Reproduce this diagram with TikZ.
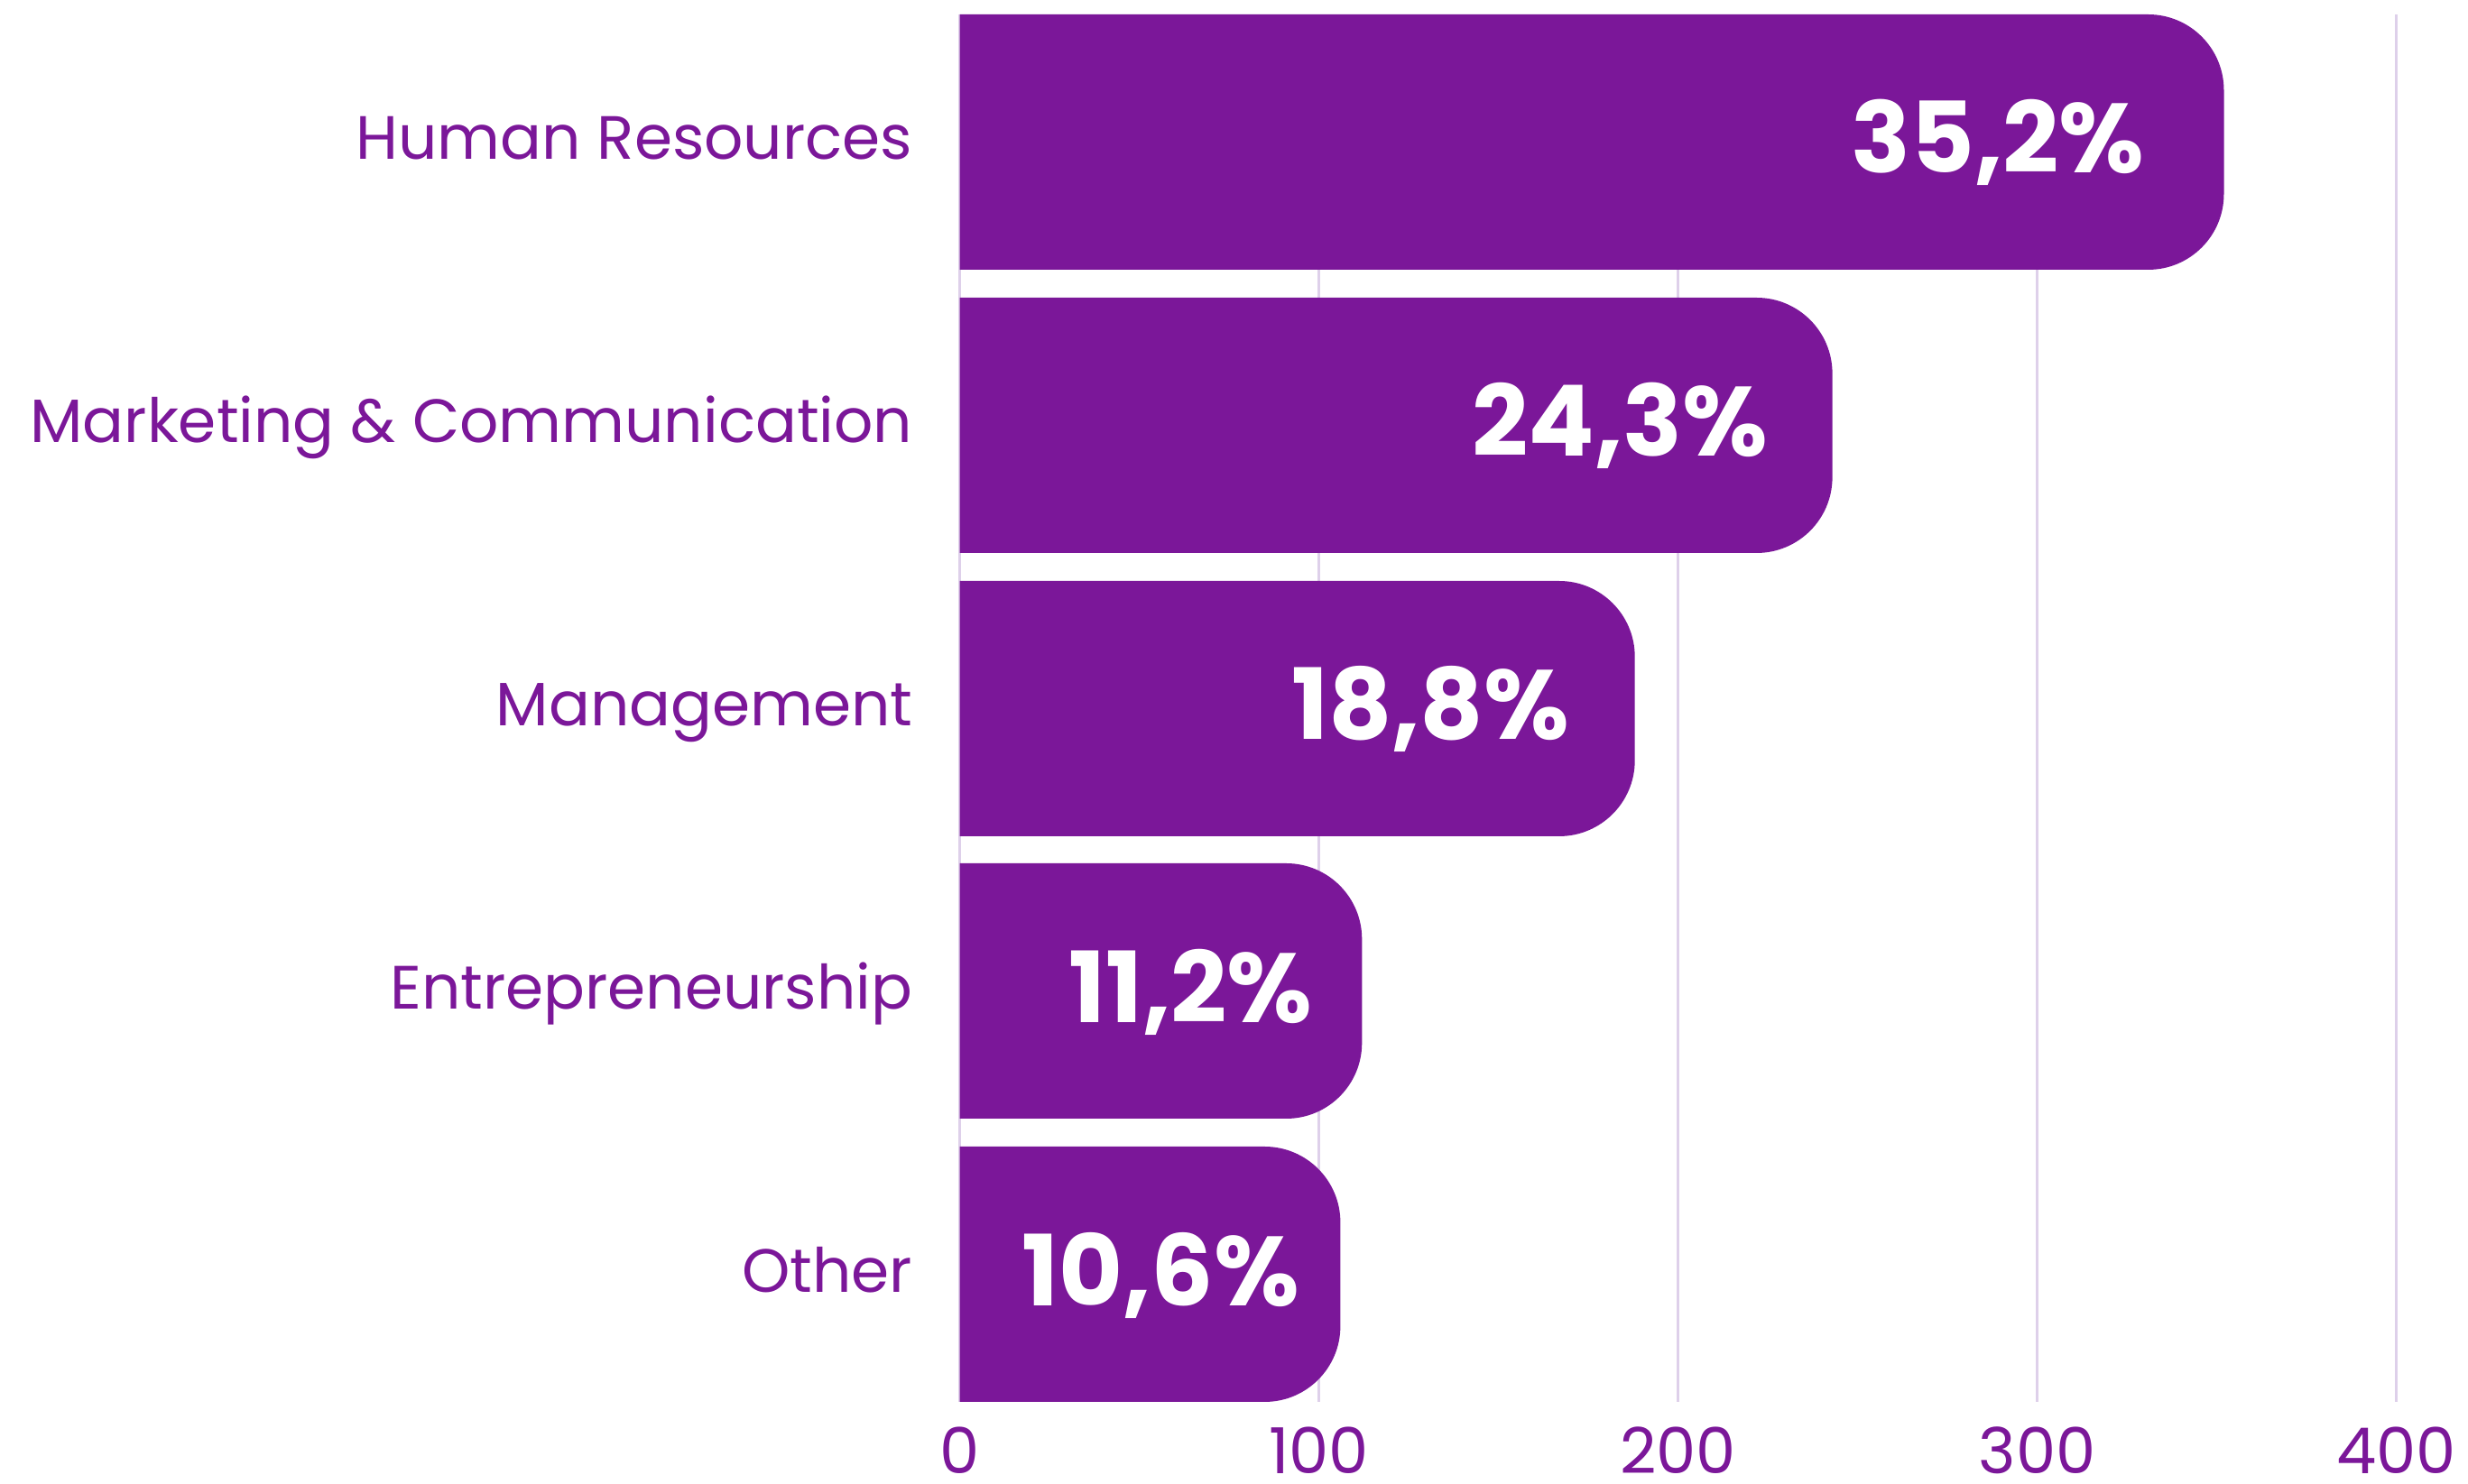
\documentclass[tikz,border=0pt]{standalone}
\usepackage{fontspec}
\setmainfont{Poppins}
\definecolor{barpurple}{RGB}{123,23,153}
\definecolor{gridlilac}{RGB}{222,208,234}

\begin{document}
\begin{tikzpicture}[
    catlabel/.style={anchor=base east, inner sep=0pt, text=barpurple, font=\fontsize{19.3}{23}\selectfont},
    vallabel/.style={anchor=base east, inner sep=0pt, text=white, font=\fontsize{31}{36}\selectfont\bfseries},
    ticklabel/.style={anchor=base, inner sep=0pt, text=barpurple, font=\fontsize{20}{24}\selectfont},
    gridline/.style={draw=gridlilac, line width=0.6pt},
    barfill/.style={fill=barpurple}]
	\useasboundingbox (0,0) rectangle (27.35,16.45);

	% Grid lines
	\draw[gridline] (10.635,0.91) -- (10.635,16.29);
	\draw[gridline] (14.615,0.91) -- (14.615,16.29);
	\draw[gridline] (18.595,0.91) -- (18.595,16.29);
	\draw[gridline] (22.575,0.91) -- (22.575,16.29);
	\draw[gridline] (26.555,0.91) -- (26.555,16.29);

	% Bars
	\fill[barfill] (10.635,13.46) -- (10.635,16.29) -- (23.805,16.29) arc[start angle=90, end angle=0, radius=0.84] -- (24.645,14.30) arc[start angle=0, end angle=-90, radius=0.84] -- cycle;
	\fill[barfill] (10.635,10.32) -- (10.635,13.15) -- (19.466,13.15) arc[start angle=90, end angle=0, radius=0.84] -- (20.306,11.16) arc[start angle=0, end angle=-90, radius=0.84] -- cycle;
	\fill[barfill] (10.635,7.18) -- (10.635,10.01) -- (17.277,10.01) arc[start angle=90, end angle=0, radius=0.84] -- (18.117,8.02) arc[start angle=0, end angle=-90, radius=0.84] -- cycle;
	\fill[barfill] (10.635,4.05) -- (10.635,6.88) -- (14.253,6.88) arc[start angle=90, end angle=0, radius=0.84] -- (15.093,4.89) arc[start angle=0, end angle=-90, radius=0.84] -- cycle;
	\fill[barfill] (10.635,0.91) -- (10.635,3.74) -- (14.014,3.74) arc[start angle=90, end angle=0, radius=0.84] -- (14.854,1.75) arc[start angle=0, end angle=-90, radius=0.84] -- cycle;

	% Values
	\node[vallabel] (valhr) at (23.77,14.53) {35,2\%};
	\node[vallabel] (valmc) at (19.60,11.39) {24,3\%};
	\node[vallabel] (valmg) at (17.40,8.25) {18,8\%};
	\node[vallabel] (valen) at (14.55,5.11) {11,2\%};
	\node[vallabel] (valot) at (14.405,1.97) {10,6\%};

	% Categories
	\node[catlabel] (cathr) at (10.12,14.68) {Human Resources};
	\node[catlabel] (catmc) at (10.12,11.54) {Marketing \& Communication};
	\node[catlabel] (catmg) at (10.12,8.40) {Management};
	\node[catlabel] (caten) at (10.12,5.26) {Entrepreneurship};
	\node[catlabel] (catot) at (10.12,2.12) {Other};

	% Axis
	\node[ticklabel] (tick0) at (10.635,0.11) {0};
	\node[ticklabel] (tick100) at (14.615,0.11) {100};
	\node[ticklabel] (tick200) at (18.595,0.11) {200};
	\node[ticklabel] (tick300) at (22.575,0.11) {300};
	\node[ticklabel] (tick400) at (26.555,0.11) {400};
\end{tikzpicture}
\end{document}
